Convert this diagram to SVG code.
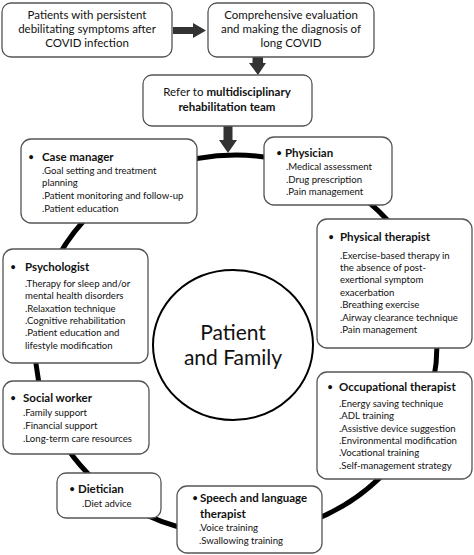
<svg xmlns="http://www.w3.org/2000/svg" width="474" height="555" viewBox="0 0 474 555">
<style>
.box{fill:#fff;stroke:#555;stroke-width:1.3}
.t{font-family:Lato,"Liberation Sans",sans-serif;fill:#111}
.c{font-size:11.5px;text-anchor:middle}
.h{font-size:11.5px;font-weight:bold}
.b{font-size:9.6px}
.bul{font-size:9px;font-weight:bold;text-anchor:middle}
.ar{fill:#333}
</style>
<rect width="474" height="555" fill="#fff"/>
<g id="connectors">
<ellipse cx="236" cy="345" rx="201" ry="190" fill="none" stroke="#000" stroke-width="5"/>
<path class="ar" d="M173 27 H193 V23 L206 30.5 L193 38 V34 H173 Z"/>
<path class="ar" d="M252.5 57 H263 V63 H266 L258 75 L249 63 H252.5 Z"/>
<path class="ar" d="M223.5 126 H232.5 V140 H237 L228 153 L219 140 H223.5 Z"/>
</g>
<g id="patient-family">
<ellipse cx="233" cy="345" rx="80" ry="75" fill="#fff" stroke="#000" stroke-width="2"/>
<text class="t" x="233" y="340" font-size="21" text-anchor="middle">Patient</text>
<text class="t" x="233" y="365" font-size="21" text-anchor="middle">and Family</text>
</g>
<g id="n-patients">
<rect class="box" x="2" y="3" width="170" height="54" rx="9"/>
<text class="t c" x="87" y="19">Patients with persistent</text>
<text class="t c" x="87" y="33">debilitating symptoms after</text>
<text class="t c" x="87" y="47">COVID infection</text>
</g>
<g id="n-evaluation">
<rect class="box" x="208" y="3" width="166" height="54" rx="9"/>
<text class="t c" x="291" y="19">Comprehensive evaluation</text>
<text class="t c" x="291" y="33">and making the diagnosis of</text>
<text class="t c" x="291" y="47">long COVID</text>
</g>
<g id="n-refer">
<rect class="box" x="143" y="75" width="169" height="51" rx="9"/>
<text class="t c" x="227" y="96">Refer to <tspan font-weight="bold">multidisciplinary</tspan></text>
<text class="t c" x="227" y="111" font-weight="bold">rehabilitation team</text>
</g>
<g id="n-case-manager">
<rect class="box" x="21" y="139" width="176" height="84" rx="10"/>
<text class="t bul" x="31" y="160">•</text>
<text class="t h" x="42" y="161">Case manager</text>
<text class="t b" x="42" y="174">.Goal setting and treatment</text>
<text class="t b" x="42" y="186">planning</text>
<text class="t b" x="42" y="199">.Patient monitoring and follow-up</text>
<text class="t b" x="42" y="212">.Patient education</text>
</g>
<g id="n-physician">
<rect class="box" x="264" y="137" width="128" height="68" rx="10"/>
<text class="t bul" x="279" y="156">•</text>
<text class="t h" x="285" y="157">Physician</text>
<text class="t b" x="286" y="170">.Medical assessment</text>
<text class="t b" x="286" y="183">.Drug prescription</text>
<text class="t b" x="286" y="195">.Pain management</text>
</g>
<g id="n-psychologist">
<rect class="box" x="3" y="249" width="145" height="114" rx="10"/>
<text class="t bul" x="13" y="270">•</text>
<text class="t h" x="25" y="271">Psychologist</text>
<text class="t b" x="25" y="287">.Therapy for sleep and/or</text>
<text class="t b" x="25" y="299">mental health disorders</text>
<text class="t b" x="25" y="312">.Relaxation technique</text>
<text class="t b" x="25" y="324">.Cognitive rehabilitation</text>
<text class="t b" x="25" y="336">.Patient education and</text>
<text class="t b" x="25" y="349">lifestyle modification</text>
</g>
<g id="n-physical-therapist">
<rect class="box" x="317" y="219" width="155" height="129" rx="10"/>
<text class="t bul" x="331" y="240">•</text>
<text class="t h" x="340" y="241">Physical therapist</text>
<text class="t b" x="340" y="259">.Exercise-based therapy in</text>
<text class="t b" x="340" y="271">the absence of post-</text>
<text class="t b" x="340" y="283">exertional symptom</text>
<text class="t b" x="340" y="296">exacerbation</text>
<text class="t b" x="340" y="308">.Breathing exercise</text>
<text class="t b" x="340" y="321">.Airway clearance technique</text>
<text class="t b" x="340" y="333">.Pain management</text>
</g>
<g id="n-social-worker">
<rect class="box" x="3" y="381" width="146" height="73" rx="10"/>
<text class="t bul" x="13" y="401">•</text>
<text class="t h" x="23" y="402">Social worker</text>
<text class="t b" x="23" y="416">.Family support</text>
<text class="t b" x="23" y="429">.Financial support</text>
<text class="t b" x="23" y="442">.Long-term care resources</text>
</g>
<g id="n-occupational-therapist">
<rect class="box" x="317" y="372" width="155" height="107" rx="10"/>
<text class="t bul" x="330" y="390">•</text>
<text class="t h" x="339" y="391">Occupational therapist</text>
<text class="t b" x="339" y="407">.Energy saving technique</text>
<text class="t b" x="339" y="419">.ADL training</text>
<text class="t b" x="339" y="432">.Assistive device suggestion</text>
<text class="t b" x="339" y="444">.Environmental modification</text>
<text class="t b" x="339" y="456">.Vocational training</text>
<text class="t b" x="339" y="469">.Self-management strategy</text>
</g>
<g id="n-dietician">
<rect class="box" x="57" y="473" width="104" height="45" rx="9"/>
<text class="t bul" x="72" y="492">•</text>
<text class="t h" x="78" y="493">Dietician</text>
<text class="t b" x="82" y="507">.Diet advice</text>
</g>
<g id="n-speech">
<rect class="box" x="177" y="486" width="145" height="67" rx="10"/>
<text class="t bul" x="195" y="501">•</text>
<text class="t h" x="200" y="502">Speech and language</text>
<text class="t h" x="200" y="518">therapist</text>
<text class="t b" x="199" y="531">.Voice training</text>
<text class="t b" x="199" y="544">.Swallowing training</text>
</g>
</svg>
